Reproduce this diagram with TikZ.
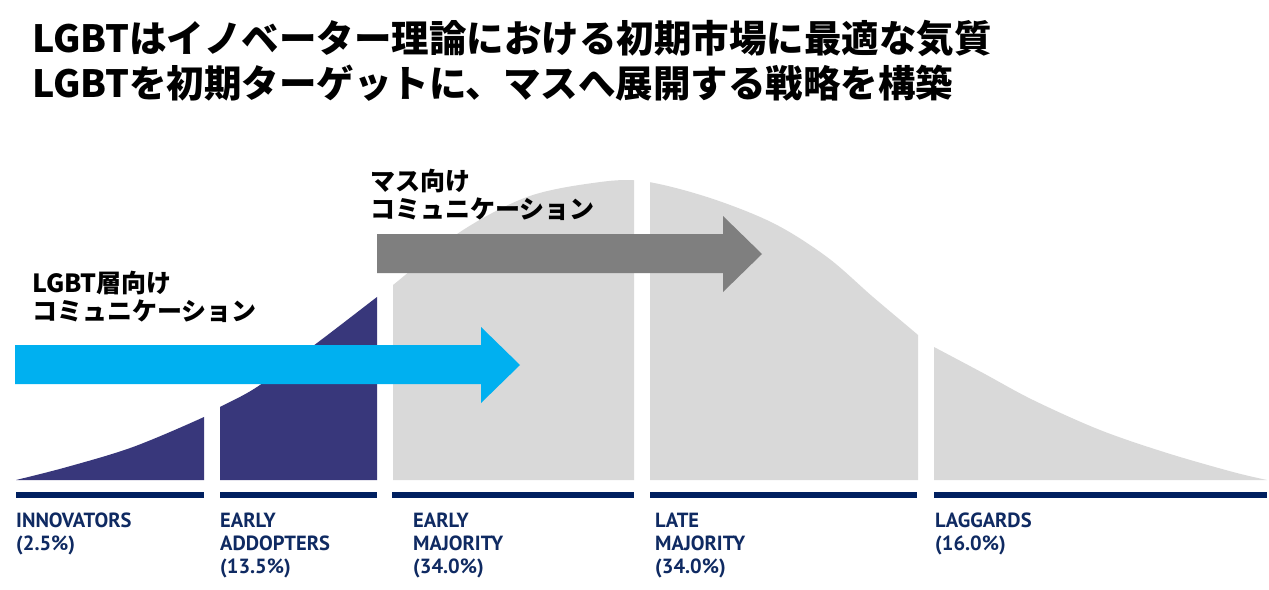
\documentclass[tikz,border=0pt]{standalone}
\usepackage{fontspec}
\setmainfont{PT Sans}
\newfontfamily\jp{Noto Sans CJK JP}
\definecolor{navy}{HTML}{002060}
\definecolor{labnavy}{HTML}{0F2A62}
\definecolor{purp}{HTML}{38377B}
\definecolor{lgray}{HTML}{D9D9D9}
\definecolor{arrblue}{HTML}{00B0F0}
\definecolor{arrgray}{HTML}{7F7F7F}
\tikzset{
  title/.style={anchor=base west, inner sep=0pt, font=\jp\bfseries\fontsize{37.5}{44}\selectfont},
  sub/.style={anchor=base west, inner sep=0pt, font=\jp\bfseries\fontsize{25}{28}\selectfont},
  lab/.style={anchor=north west, inner sep=0pt, align=left, text=labnavy,
    font=\bfseries\fontsize{20.5}{23}\selectfont},
  bar/.style={fill=navy}
}
\def\bellcurve{plot[smooth,tension=0.55] coordinates {(16,480) (67,467) (133,447) (204,417) (220,407) (257,387) (317,343) (377,297) (393,285) (460,232) (527,197) (593,183) (642,181) (707,197) (773,223) (827,257) (873,297) (918,335) (930,346)} -- (930,480)}
\begin{document}
\begin{tikzpicture}[x=1pt,y=-1pt]
\useasboundingbox (0,0) rectangle (1269,589);
\fill[white] (0,0) rectangle (1269,589);
% title
\node[title] (t1) at (32,52) {LGBTはイノベーター理論における初期市場に最適な気質};
\node[title] (t2) at (32,97) {LGBTを初期ターゲットに、マスへ展開する戦略を構築};
% curve segments
\begin{scope}\clip (16,0) rectangle (204,480); \fill[purp] \bellcurve -- cycle; \end{scope}
\begin{scope}\clip (220,0) rectangle (377,480); \fill[purp] \bellcurve -- cycle; \end{scope}
\begin{scope}\clip (393,0) rectangle (634,480); \fill[lgray] \bellcurve -- cycle; \end{scope}
\begin{scope}\clip (650,0) rectangle (918,480); \fill[lgray] \bellcurve -- cycle; \end{scope}
\fill[lgray] (934,480) -- plot[smooth,tension=0.55] coordinates {(934,347) (983,373) (1033,400) (1100,430) (1167,453) (1233,472) (1267,480)} -- cycle;
% bars
\fill[bar] (16,492) rectangle (204,498);
\fill[bar] (220,492) rectangle (377,498);
\fill[bar] (392,492) rectangle (634,498);
\fill[bar] (650,492) rectangle (917,498);
\fill[bar] (934,492) rectangle (1267,498);
% arrows
\fill[arrblue] (15,345) -- (481,345) -- (481,327) -- (520,365) -- (481,403) -- (481,384) -- (15,384) -- cycle;
\fill[arrgray] (377,234) -- (723,234) -- (723,216) -- (762,254) -- (723,292) -- (723,273) -- (377,273) -- cycle;
% sub captions
\node[sub] (s1) at (32,292) {LGBT層向け};
\node[sub] (s2) at (32,320) {コミュニケーション};
\node[sub] (s3) at (370,190) {マス向け};
\node[sub] (s4) at (370,218) {コミュニケーション};
% labels
\node[lab] (l1) at (16,513) {INNOVATORS\\(2.5\%)};
\node[lab] (l2) at (220,513) {EARLY\\ADDOPTERS\\(13.5\%)};
\node[lab] (l3) at (413,513) {EARLY\\MAJORITY\\(34.0\%)};
\node[lab] (l4) at (655,513) {LATE\\MAJORITY\\(34.0\%)};
\node[lab] (l5) at (935,513) {LAGGARDS\\(16.0\%)};
\end{tikzpicture}
\end{document}
